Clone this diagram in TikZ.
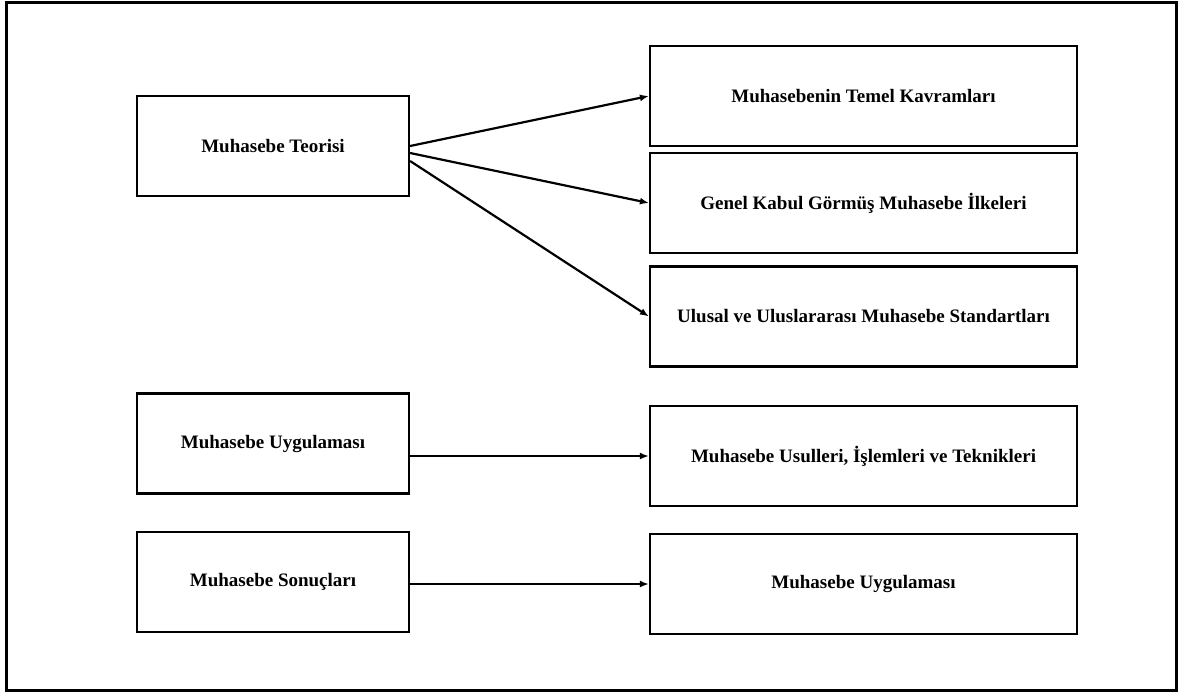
\documentclass[tikz,border=0pt]{standalone}
\usepackage{fontspec}
\setmainfont{Liberation Serif}
\usetikzlibrary{positioning,arrows.meta}
\tikzset{
  lbox/.style={draw, line width=2.2pt, font=\fontsize{19}{22}\selectfont\bfseries,
    minimum width=272pt, minimum height=100pt, align=center, inner sep=0pt},
  rbox/.style={lbox, minimum width=427pt},
  farr/.style={-{Latex[length=9pt,width=7pt]}, line width=2.2pt},
}
\begin{document}
\begin{tikzpicture}[x=1pt, y=-1pt]
  \useasboundingbox (0,0) rectangle (1182,697);
  \draw[line width=3pt] (6,2) rectangle (1176,690);
  % Left column
  \node[lbox] at (273,146) (teori) {Muhasebe Teorisi};
  \node[lbox] at (273,443.5) (uygl) {Muhasebe Uygulaması};
  \node[lbox] at (273,582) (sonuc) {Muhasebe Sonuçları};
  % Right column
  \node[rbox] at (863.5,96) (kavr) {Muhasebenin Temel Kavramları};
  \node[rbox] at (863.5,203) (ilke) {Genel Kabul Görmüş Muhasebe İlkeleri};
  \node[rbox] at (863.5,316.5) (stnd) {Ulusal ve Uluslararası Muhasebe Standartları};
  \node[rbox] at (863.5,456) (usul) {Muhasebe Usulleri, İşlemleri ve Teknikleri};
  \node[rbox] at (863.5,584) (uyg2) {Muhasebe Uygulaması};
  % Edges
  \draw[farr] (teori.east) -- (kavr.west);
  \draw[farr] ([yshift=-7pt]teori.east) -- (ilke.west);
  \draw[farr] ([yshift=-15pt]teori.east) -- (stnd.west);
  \draw[farr] (uygl.east |- usul.west) -- (usul.west);
  \draw[farr] (sonuc.east |- uyg2.west) -- (uyg2.west);
\end{tikzpicture}
\end{document}
